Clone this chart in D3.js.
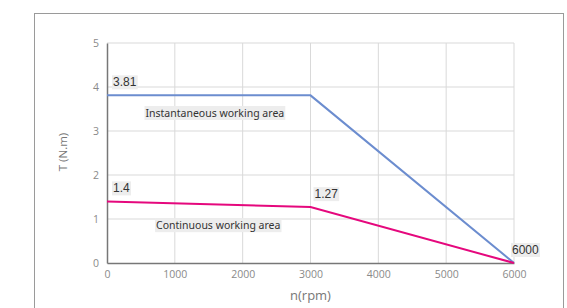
<!DOCTYPE html>
<html>
<head>
<meta charset="utf-8">
<script src="https://cdn.jsdelivr.net/npm/d3@7"></script>
<style>
  body { margin: 0; background: #fff; }
  svg { display: block; }
</style>
</head>
<body>
<div id="chart"></div>
<script>
// data
const speedTicks = [0, 1000, 2000, 3000, 4000, 5000, 6000];
const torqueTicks = [0, 1, 2, 3, 4, 5];
const instantaneous = [[0, 3.81], [3000, 3.81], [6000, 0]];
const continuous = [[0, 1.4], [3000, 1.27], [6000, 0]];
const pointLabels = [
  { x: 0, y: 3.81, text: "3.81" },
  { x: 0, y: 1.4, text: "1.4" },
  { x: 3000, y: 1.27, text: "1.27" },
  { x: 6000, y: 0, text: "6000" }
];
const areaLabels = [
  { x: 1590, y: 3.41, text: "Instantaneous working area" },
  { x: 1640, y: 0.86, text: "Continuous working area" }
];

let width = 567;
let height = 308;

let svg = d3.select("#chart")
            .append("svg")
            .attr("width", width)
            .attr("height", height);

// outer frame
svg.append("rect")
   .attr("x", 34.5).attr("y", 13.5)
   .attr("width", 529).attr("height", 320)
   .attr("fill", "none")
   .attr("stroke", "#9a9a9a")
   .attr("stroke-width", 1);

const x = d3.scaleLinear().domain([0, 6000]).range([107, 514]);
const y = d3.scaleLinear().domain([0, 5]).range([263, 43]);

// grid
let grid = svg.append("g").attr("class", "grid");
grid.selectAll("line.v")
    .data(speedTicks.slice(1))
    .enter().append("line")
    .attr("x1", d => x(d)).attr("x2", d => x(d))
    .attr("y1", y(0)).attr("y2", y(5))
    .attr("stroke", "#d9d9d9").attr("stroke-width", 1);
grid.selectAll("line.h")
    .data(torqueTicks.slice(1))
    .enter().append("line")
    .attr("x1", x(0)).attr("x2", x(6000))
    .attr("y1", d => y(d)).attr("y2", d => y(d))
    .attr("stroke", "#d9d9d9").attr("stroke-width", 1);

// axes
let xAxis = svg.append("g")
    .attr("transform", `translate(0,${y(0)})`)
    .call(d3.axisBottom(x).tickValues(speedTicks).tickFormat(d3.format("d")).tickSize(0).tickPadding(8));
let yAxis = svg.append("g")
    .attr("transform", `translate(${x(0)},0)`)
    .call(d3.axisLeft(y).tickValues(torqueTicks).tickFormat(d3.format("d")).tickSize(0).tickPadding(8));

[xAxis, yAxis].forEach(function(a) {
  a.select(".domain").attr("stroke", "#777").attr("stroke-width", 1.5);
  a.selectAll("text")
   .attr("fill", "#8a8a8a")
   .style("font-family", "'Open Sans', sans-serif")
   .style("font-size", "10.5px");
});

svg.append("text")
   .attr("x", x(3000))
   .attr("y", 300)
   .attr("text-anchor", "middle")
   .attr("fill", "#777")
   .style("font-family", "'Open Sans', sans-serif")
   .style("font-size", "13px")
   .text("n(rpm)");

svg.append("text")
   .attr("transform", `translate(67,152) rotate(-90)`)
   .attr("text-anchor", "middle")
   .attr("fill", "#777")
   .style("font-family", "'Open Sans', sans-serif")
   .style("font-size", "11.5px")
   .text("T (N.m)");

// curves
let line = d3.line().x(d => x(d[0])).y(d => y(d[1]));
svg.append("path")
   .datum(instantaneous)
   .attr("d", line)
   .attr("fill", "none")
   .attr("stroke", "#6c8dcf")
   .attr("stroke-width", 2);
svg.append("path")
   .datum(continuous)
   .attr("d", line)
   .attr("fill", "none")
   .attr("stroke", "#e5087d")
   .attr("stroke-width", 2);

// labels with a light background box
function boxedLabel(tx, ty, text, font, size, anchor) {
  let g = svg.append("g");
  let t = g.append("text")
           .attr("x", tx).attr("y", ty)
           .attr("text-anchor", anchor)
           .attr("dominant-baseline", "central")
           .attr("fill", "#333")
           .style("font-family", font)
           .style("font-size", size)
           .text(text);
  let b = t.node().getBBox();
  g.insert("rect", "text")
   .attr("x", b.x - 1).attr("y", b.y)
   .attr("width", b.width + 2).attr("height", b.height)
   .attr("fill", "#ededed");
}

pointLabels.forEach(function(d) {
  // the label at the right end sits just left of the point
  let dx = d.x === 6000 ? -2 : (d.x === 0 ? 6 : 4);
  boxedLabel(x(d.x) + dx, y(d.y) - 13, d.text, "'Liberation Sans', Arial, sans-serif", "12px", "start");
});
areaLabels.forEach(function(d) {
  boxedLabel(x(d.x), y(d.y), d.text, "'Noto Sans', sans-serif", "10.5px", "middle");
});
</script>
</body>
</html>
